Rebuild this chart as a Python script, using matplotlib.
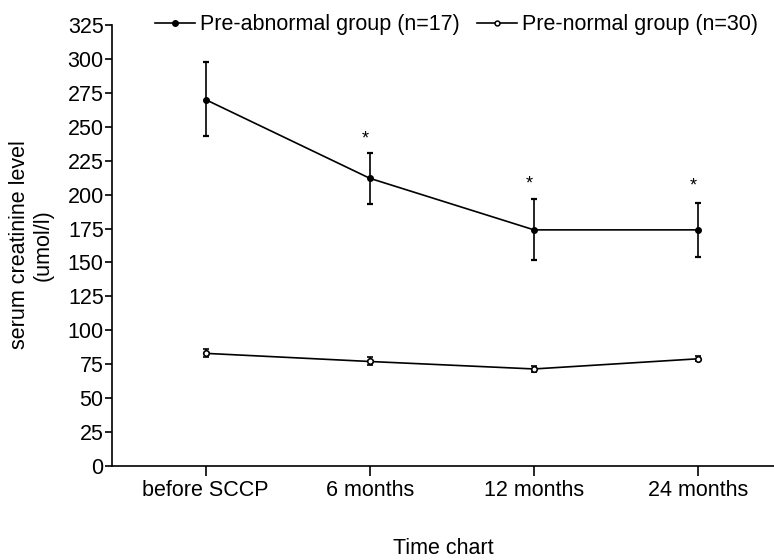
import numpy as np
import matplotlib
matplotlib.use('Agg')
import matplotlib.pyplot as plt
from matplotlib.lines import Line2D

plt.rcParams['font.family'] = ['Liberation Sans', 'DejaVu Sans']

timepoints = ['before SCCP', '6 months', '12 months', '24 months']
abnormal_mean = [270, 212, 174, 174]
abnormal_lo = [243, 193, 152, 154]
abnormal_hi = [298, 231, 197, 194]
normal_mean = [83, 77, 71.5, 79]
normal_lo = [80, 74.5, 69, 77]
normal_hi = [86, 80, 74, 81]
star_y = [241, 208, 206]  # '*' marks over 6, 12, 24 months

fs = 15.5
fig = plt.figure(figsize=(7.74, 5.6), dpi=100)
ax = fig.add_axes([0.1447, 0.1679, 0.855, 0.7875])

x = np.arange(len(timepoints))
am = np.array(abnormal_mean)
nm = np.array(normal_mean)
a_err = [am - np.array(abnormal_lo), np.array(abnormal_hi) - am]
n_err = [nm - np.array(normal_lo), np.array(normal_hi) - nm]

ax.errorbar(x, am, yerr=a_err, color='black', lw=1.2, marker='o', ms=4,
            capsize=2.5, capthick=1.6, elinewidth=1.2)
ax.errorbar(x, nm, yerr=n_err, color='black', lw=1.2, marker='o', ms=4,
            mfc='white', mew=1.2, capsize=2.5, capthick=1.6, elinewidth=1.2)

for xi, yi in zip(x[1:], star_y):
    ax.text(xi - 0.03, yi, '*', ha='center', va='center', fontsize=13)

ax.set_xlim(-0.57, 3.46)
ax.set_ylim(0, 325)
ax.set_yticks(np.arange(0, 326, 25))
ax.set_xticks(x)
ax.set_xticklabels(timepoints)
ax.tick_params(axis='both', labelsize=fs, direction='out', width=1.2)
ax.tick_params(axis='y', length=5, pad=1)
ax.tick_params(axis='x', length=7, pad=3)
for s in ['top', 'right']:
    ax.spines[s].set_visible(False)
for s in ['left', 'bottom']:
    ax.spines[s].set_linewidth(1.2)

fig.text(31 / 774, 1 - 245 / 560, 'serum creatinine level\n(umol/l)', rotation=90,
         ha='center', va='center', multialignment='center', fontsize=fs,
         linespacing=1.15)
fig.text(443 / 774, 1 - 548 / 560, 'Time chart', ha='center', va='center', fontsize=fs)

handles = [Line2D([], [], color='black', lw=1.2, marker='o', ms=4),
           Line2D([], [], color='black', lw=1.2, marker='o', ms=3.5, mfc='white', mew=1.1)]
ax.legend(handles, ['Pre-abnormal group (n=17)', 'Pre-normal group (n=30)'],
          loc='center left', bbox_to_anchor=(0.065, 1.0), ncol=2, frameon=False,
          fontsize=fs, handlelength=1.85, handletextpad=0.25, columnspacing=0.8,
          borderaxespad=0, borderpad=0)

fig.savefig('out.png', dpi=100)
